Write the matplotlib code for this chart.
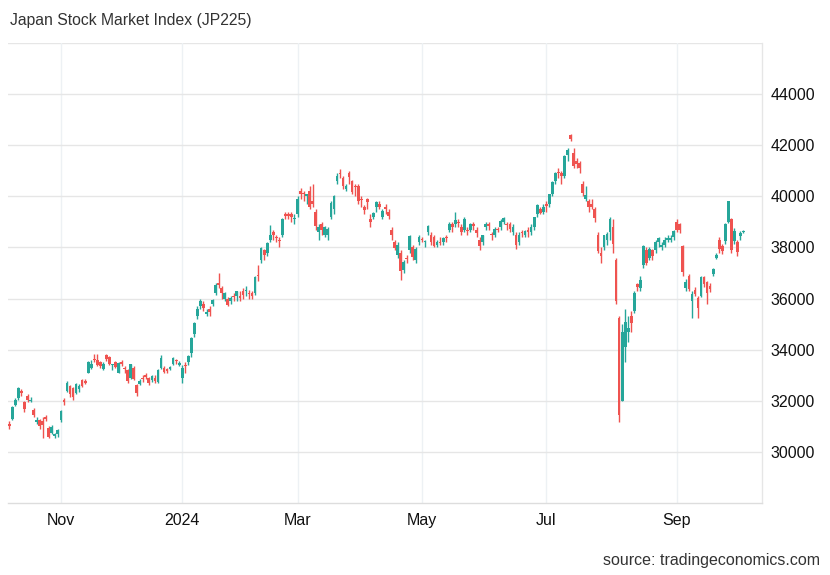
import matplotlib
matplotlib.use("Agg")
import matplotlib.pyplot as plt
import numpy as np

plt.rcParams['font.family'] = ['Liberation Sans', 'DejaVu Sans']

title = "Japan Stock Market Index (JP225)"
source = "source: tradingeconomics.com"

dates = [
    # Oct 2023
    "2023-10-06", "2023-10-10", "2023-10-11", "2023-10-12", "2023-10-13", "2023-10-16", "2023-10-17",
    "2023-10-18", "2023-10-19", "2023-10-20", "2023-10-23", "2023-10-24", "2023-10-25", "2023-10-26",
    "2023-10-27", "2023-10-30", "2023-10-31",
    # Nov 2023
    "2023-11-01", "2023-11-02", "2023-11-06", "2023-11-07", "2023-11-08", "2023-11-09", "2023-11-10",
    "2023-11-13", "2023-11-14", "2023-11-15", "2023-11-16", "2023-11-17", "2023-11-20", "2023-11-21",
    "2023-11-22", "2023-11-24", "2023-11-27", "2023-11-28", "2023-11-29", "2023-11-30",
    # Dec 2023
    "2023-12-01", "2023-12-04", "2023-12-05", "2023-12-06", "2023-12-07", "2023-12-08", "2023-12-11",
    "2023-12-12", "2023-12-13", "2023-12-14", "2023-12-15", "2023-12-18", "2023-12-19", "2023-12-20",
    "2023-12-21", "2023-12-22", "2023-12-26", "2023-12-27", "2023-12-28", "2023-12-29",
    # Jan 2024
    "2024-01-04", "2024-01-05", "2024-01-09", "2024-01-10", "2024-01-11", "2024-01-12", "2024-01-15",
    "2024-01-16", "2024-01-17", "2024-01-18", "2024-01-19", "2024-01-22", "2024-01-23", "2024-01-24",
    "2024-01-25", "2024-01-26", "2024-01-29", "2024-01-30", "2024-01-31",
    # Feb 2024
    "2024-02-01", "2024-02-02", "2024-02-05", "2024-02-06", "2024-02-07", "2024-02-08", "2024-02-09",
    "2024-02-13", "2024-02-14", "2024-02-15", "2024-02-16", "2024-02-19", "2024-02-20", "2024-02-21",
    "2024-02-22", "2024-02-26", "2024-02-27", "2024-02-28", "2024-02-29",
    # Mar 2024
    "2024-03-01", "2024-03-04", "2024-03-05", "2024-03-06", "2024-03-07", "2024-03-08", "2024-03-11",
    "2024-03-12", "2024-03-13", "2024-03-14", "2024-03-15", "2024-03-18", "2024-03-19", "2024-03-21",
    "2024-03-22", "2024-03-25", "2024-03-26", "2024-03-27", "2024-03-28", "2024-03-29",
    # Apr 2024
    "2024-04-01", "2024-04-02", "2024-04-03", "2024-04-04", "2024-04-05", "2024-04-08", "2024-04-09",
    "2024-04-10", "2024-04-11", "2024-04-12", "2024-04-15", "2024-04-16", "2024-04-17", "2024-04-18",
    "2024-04-19", "2024-04-22", "2024-04-23", "2024-04-24", "2024-04-25", "2024-04-26", "2024-04-30",
    # May 2024
    "2024-05-01", "2024-05-02", "2024-05-07", "2024-05-08", "2024-05-09", "2024-05-10", "2024-05-13",
    "2024-05-14", "2024-05-15", "2024-05-16", "2024-05-17", "2024-05-20", "2024-05-21", "2024-05-22",
    "2024-05-23", "2024-05-24", "2024-05-27", "2024-05-28", "2024-05-29", "2024-05-30", "2024-05-31",
    # Jun 2024
    "2024-06-03", "2024-06-04", "2024-06-05", "2024-06-06", "2024-06-07", "2024-06-10", "2024-06-11",
    "2024-06-12", "2024-06-13", "2024-06-14", "2024-06-17", "2024-06-18", "2024-06-19", "2024-06-20",
    "2024-06-21", "2024-06-24", "2024-06-25", "2024-06-26", "2024-06-27", "2024-06-28",
    # Jul 2024
    "2024-07-01", "2024-07-02", "2024-07-03", "2024-07-04", "2024-07-05", "2024-07-08", "2024-07-09",
    "2024-07-10", "2024-07-11", "2024-07-12", "2024-07-16", "2024-07-17", "2024-07-18", "2024-07-19",
    "2024-07-22", "2024-07-23", "2024-07-24", "2024-07-25", "2024-07-26", "2024-07-29", "2024-07-30",
    "2024-07-31",
    # Aug 2024
    "2024-08-01", "2024-08-02", "2024-08-05", "2024-08-06", "2024-08-07", "2024-08-08", "2024-08-09",
    "2024-08-13", "2024-08-14", "2024-08-15", "2024-08-16", "2024-08-19", "2024-08-20", "2024-08-21",
    "2024-08-22", "2024-08-23", "2024-08-26", "2024-08-27", "2024-08-28", "2024-08-29", "2024-08-30",
    # Sep 2024
    "2024-09-02", "2024-09-03", "2024-09-04", "2024-09-05", "2024-09-06", "2024-09-09", "2024-09-10",
    "2024-09-11", "2024-09-12", "2024-09-13", "2024-09-17", "2024-09-18", "2024-09-19", "2024-09-20",
    "2024-09-24", "2024-09-25", "2024-09-26", "2024-09-27", "2024-09-30",
    # Oct 2024
    "2024-10-01", "2024-10-02", "2024-10-03", "2024-10-04",
]

opens = [
    31100, 31300, 31850, 32100, 32400, 31950, 32200, 31980, 31650, 31150, 31250, 31200, 31350, 30950, 30750, 30620, 30700,
    31260, 32050, 32400, 32560, 32500, 32300, 32450, 32800, 32780, 33100, 33300, 33650, 33600, 33500, 33250, 33800, 33700, 33400, 33500, 33100,
    33500, 33300, 33200, 32900, 33300, 32600, 32650, 32900, 33000, 32900, 32800, 32900, 32750, 33300, 33300, 33250, 33250, 33450, 33600, 33400,
    32900, 33400, 33500, 33850, 34600, 35300, 35700, 35800, 35400, 35600, 35800, 36200, 36600, 36400, 36000, 36000, 35900, 36100, 36100,
    36100, 36300, 36300, 36200, 36200, 36200, 36900, 37500, 37900, 37800, 38300, 38600, 38400, 38300, 38500, 39300, 39300, 39300, 39100,
    39300, 40200, 40100, 40000, 40200, 39800, 39400, 38600, 38900, 38500, 38500, 39200, 39500, 40600, 40900, 40700, 40300, 40900, 40600, 40400,
    40400, 39900, 39600, 39900, 39100, 39200, 39600, 39700, 39200, 39600, 39400, 38700, 38200, 37700, 37800, 37100, 37600, 37900, 38000, 37500, 38200,
    38300, 38200, 38600, 38500, 38400, 38100, 38200, 38200, 38400, 38700, 38900, 38900, 39000, 38800, 38700, 38700, 38700, 38900, 38700, 38300, 38200,
    38800, 38900, 38500, 38500, 38700, 38800, 39000, 38900, 38900, 38600, 38500, 38200, 38600, 38500, 38700, 38600, 38800, 39300, 39500, 39400,
    39700, 39700, 40100, 40600, 40950, 40900, 40800, 41600, 42400, 41700, 41400, 41300, 40500, 39900, 39800, 39700, 39500, 38500, 37800, 38000, 38300, 38600,
    38800, 37500, 35250, 32000, 34100, 34700, 35300, 35500, 36550, 36400, 37300, 37900, 37600, 37900, 37900, 38200, 38000, 38100, 38300, 38300, 38400,
    39000, 38900, 38050, 36400, 36880, 35900, 36350, 36040, 36100, 36830, 36630, 36500, 36950, 37600, 38300, 38050, 38240, 39000, 39100,
    38240, 38200, 38450, 38600,
]

highs = [
    31200, 31800, 32100, 32533, 32450, 32000, 32250, 32150, 31700, 31350, 31300, 31350, 31450, 31000, 31050, 30750, 30900,
    31650, 32100, 32790, 32600, 32550, 32700, 32650, 32850, 32850, 33550, 33600, 33850, 33850, 33550, 33500, 33850, 33750, 33450, 33550, 33500,
    33600, 33350, 33250, 33450, 33350, 32650, 32850, 33000, 33100, 32950, 33000, 33000, 33250, 33800, 33350, 33300, 33350, 33700, 33650, 33550,
    33400, 33500, 33800, 34500, 35100, 35700, 36000, 35900, 35600, 35700, 36000, 36600, 36984, 36500, 36250, 36050, 36100, 36200, 36300,
    36300, 36400, 36500, 36350, 36300, 36900, 37300, 38000, 37950, 38200, 38865, 38700, 38500, 38400, 39150, 39400, 39400, 39400, 39300,
    40000, 40314, 40200, 40100, 40400, 40472, 39500, 38900, 39000, 38850, 38800, 39800, 40050, 40900, 41087, 40800, 40500, 40980, 40650, 40500,
    40500, 40000, 39650, 39950, 39300, 39400, 39800, 39800, 39500, 39700, 39500, 38800, 38300, 38200, 37900, 37500, 37700, 38500, 38100, 38000, 38500,
    38400, 38300, 38863, 38600, 38500, 38300, 38400, 38400, 38500, 39000, 39000, 39400, 39100, 38900, 39200, 38800, 38950, 39000, 38800, 38400, 38500,
    39000, 39000, 38600, 38800, 38800, 39100, 39200, 39000, 39000, 38900, 38600, 38600, 38700, 38700, 38800, 38900, 39200, 39700, 39600, 39700,
    39800, 40100, 40600, 40950, 41100, 41000, 41600, 41900, 42450, 41900, 41500, 41400, 40600, 40400, 39900, 39900, 39600, 38600, 38000, 38500, 38600, 39200,
    39100, 37600, 35300, 35000, 35580, 35300, 35500, 36300, 36600, 36900, 38100, 38000, 38000, 37950, 38300, 38400, 38200, 38400, 38500, 38500, 38700,
    39100, 38950, 38100, 36750, 36950, 36300, 36450, 36100, 36900, 36900, 36700, 36600, 37200, 37800, 38400, 38150, 38950, 39829, 39150,
    38750, 38300, 38650, 38700,
]

lows = [
    30900, 31250, 31800, 32050, 32200, 31560, 31950, 31950, 31350, 31100, 30900, 30550, 31200, 30550, 30700, 30550, 30600,
    31180, 31850, 32350, 32150, 32050, 32280, 32350, 32550, 32650, 33080, 33250, 33500, 33350, 33300, 33200, 33550, 33400, 33200, 33300, 33100,
    33350, 33100, 32700, 32850, 32800, 32200, 32600, 32750, 32850, 32600, 32750, 32700, 32700, 33250, 33100, 33100, 33200, 33400, 33450, 33350,
    32693, 33100, 33400, 33700, 34500, 35200, 35600, 35500, 35300, 35300, 35700, 36150, 36400, 36000, 35900, 35700, 35800, 35900, 35900,
    35900, 36000, 36100, 36000, 36000, 36150, 36700, 37400, 37500, 37650, 38200, 38300, 38200, 38000, 38400, 39100, 39100, 39000, 38900,
    39200, 39900, 39800, 39700, 39500, 39600, 38700, 38300, 38500, 38400, 38300, 39100, 39300, 40500, 40700, 40300, 40200, 40500, 40100, 40000,
    39700, 39600, 39300, 39500, 38800, 39100, 39400, 39500, 39100, 39300, 39100, 38300, 37900, 37600, 36733, 37000, 37400, 37800, 37500, 37400, 38100,
    38200, 38000, 38500, 38100, 38000, 38000, 38100, 38100, 38200, 38600, 38600, 38800, 38800, 38500, 38600, 38500, 38600, 38700, 38400, 37900, 38100,
    38700, 38700, 38300, 38400, 38600, 38700, 38900, 38700, 38600, 38500, 37950, 38100, 38400, 38400, 38400, 38500, 38700, 39200, 39300, 39300,
    39400, 39600, 40000, 40500, 40700, 40500, 40700, 41400, 42150, 41100, 41100, 40900, 40000, 39800, 39400, 39500, 39000, 37800, 37400, 37900, 38100, 38300,
    37800, 35800, 31156, 32000, 33520, 34300, 34700, 35450, 36300, 36300, 37200, 37300, 37500, 37500, 37800, 38000, 37900, 38000, 38200, 38200, 38300,
    38600, 38550, 36900, 36300, 36300, 35250, 36100, 35250, 36050, 36450, 35800, 36250, 36900, 37550, 37800, 37750, 38150, 38950, 37800,
    38150, 37650, 38300, 38550,
]

closes = [
    30994, 31746, 32041, 32494, 32315, 31659, 32040, 32042, 31430, 31259, 30999, 31062, 31270, 30601, 30992, 30697, 30859,
    31601, 31950, 32708, 32272, 32166, 32646, 32568, 32585, 32695, 33519, 33424, 33585, 33388, 33354, 33451, 33625, 33447, 33408, 33321, 33486,
    33431, 33231, 32775, 33445, 32858, 32307, 32791, 32843, 32926, 32686, 32970, 32759, 33219, 33675, 33141, 33169, 33305, 33681, 33540, 33464,
    33288, 33377, 33763, 34441, 35049, 35577, 35901, 35619, 35477, 35466, 35963, 36546, 36517, 36226, 36236, 35751, 36026, 36065, 36287,
    36011, 36158, 36354, 36160, 36119, 36863, 36897, 37963, 37703, 38157, 38487, 38470, 38363, 38262, 39098, 39233, 39239, 39208, 39166,
    39910, 40109, 40097, 40090, 39598, 39688, 38820, 38797, 38695, 38807, 38707, 39740, 40003, 40815, 40888, 40414, 40398, 40762, 40168, 40369,
    39803, 39838, 39451, 39773, 38992, 39347, 39773, 39582, 39442, 39523, 39232, 38471, 37962, 38079, 37068, 37438, 37552, 38460, 37628, 37934, 38405,
    38274, 38236, 38835, 38202, 38073, 38229, 38179, 38356, 38385, 38920, 38787, 39069, 38946, 38617, 39103, 38646, 38900, 38855, 38556, 38054, 38487,
    38923, 38837, 38490, 38703, 38683, 39038, 39134, 38876, 38720, 38814, 38102, 38482, 38570, 38633, 38596, 38804, 39173, 39667, 39341, 39583,
    39631, 40074, 40580, 40913, 40912, 40780, 41580, 41831, 42224, 41190, 41275, 41097, 40126, 40063, 39599, 39594, 39154, 37869, 37667, 38468, 38525, 39102,
    38126, 35909, 31458, 34675, 35089, 34831, 35025, 36232, 36442, 36726, 38062, 37389, 37951, 37670, 38211, 38364, 38110, 38288, 38371, 38362, 38647,
    38700, 38686, 37047, 36657, 36391, 36159, 36159, 35619, 36833, 36581, 36203, 36380, 37155, 37723, 37940, 37870, 38925, 39829, 37919,
    38651, 37808, 38552, 38635,
]

y_ticks = [30000, 32000, 34000, 36000, 38000, 40000, 42000, 44000]
y_limits = (28000, 46000)
month_ticks = [("2023-11", "Nov"), ("2024-01", "2024"), ("2024-03", "Mar"),
               ("2024-05", "May"), ("2024-07", "Jul"), ("2024-09", "Sep")]

up_color = '#26a69a'
down_color = '#ef5350'

n = len(dates)
assert len(opens) == n and len(highs) == n and len(lows) == n and len(closes) == n

o = np.array(opens, dtype=float)
h = np.array(highs, dtype=float)
l = np.array(lows, dtype=float)
c = np.array(closes, dtype=float)
x = np.arange(n)
colors = [up_color if cc >= oo else down_color for oo, cc in zip(o, c)]
body_bottom = np.minimum(o, c)
body_height = np.maximum(np.abs(c - o), 40)

W, H = 830, 575
fig = plt.figure(figsize=(W / 100, H / 100), dpi=100)
ax = fig.add_axes([8 / W, 72 / H, 754 / W, 460 / H])

ax.vlines(x, l, h, colors=colors, linewidth=1.0, zorder=3)
ax.bar(x, body_height, bottom=body_bottom, width=0.9, color=colors, linewidth=0, zorder=4)

ax.set_xlim(-0.43, 248.1)
ax.set_ylim(*y_limits)

tick_pos = []
tick_lab = []
for key, lab in month_ticks:
    idx = next(i for i, d in enumerate(dates) if d.startswith(key))
    tick_pos.append(idx)
    tick_lab.append(lab)
ax.set_xticks(tick_pos)
ax.set_xticklabels(tick_lab)

ax.yaxis.tick_right()
ax.set_yticks(y_ticks)
ax.set_yticklabels([str(v) for v in y_ticks])

ax.grid(axis='y', color='#e6e6e6', linewidth=1.0, zorder=0)
ax.grid(axis='x', color='#edf1f4', linewidth=1.0, zorder=0)
ax.axhline(y_limits[1], color='#e6e6e6', linewidth=1.0, zorder=0)

for side in ['top', 'left']:
    ax.spines[side].set_visible(False)
ax.spines['bottom'].set_color('#dddddd')
ax.spines['right'].set_color('#e6e6e6')
ax.spines['bottom'].set_linewidth(1.0)
ax.spines['right'].set_linewidth(1.0)

ax.tick_params(axis='both', length=0, labelsize=11.5, colors='#111111')
ax.tick_params(axis='x', pad=7)
ax.tick_params(axis='y', pad=6)

fig.text(10 / W, 1 - 20 / H, title, fontsize=11.3, color='#333333', ha='left', va='center')
fig.text(820 / W, 1 - 560 / H, source, fontsize=11.5, color='#333333', ha='right', va='center')

fig.savefig('out.png', dpi=100)
